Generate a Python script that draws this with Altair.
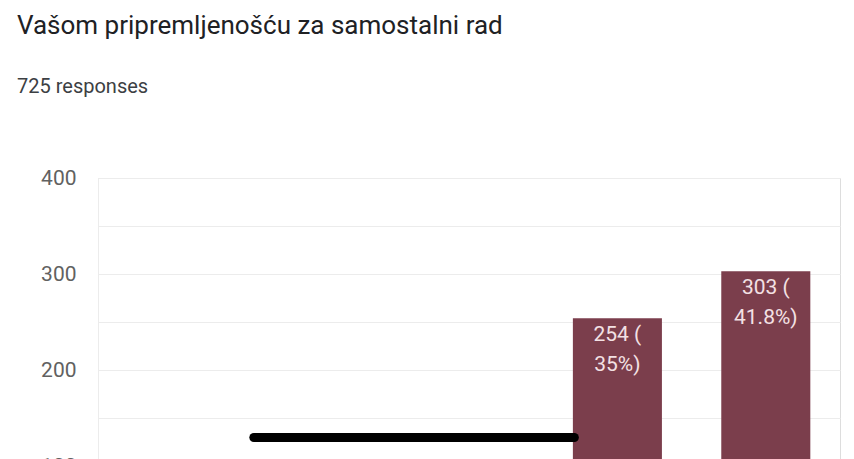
import altair as alt
import pandas as pd

# Data (categories 1-3 lie below the visible area)
categories = ["1", "2", "3", "4", "5"]
counts = [17, 51, 100, 254, 303]
total_responses = 725
title_text = "Vašom pripremljenošću za samostalni rad"
subtitle_text = f"{total_responses} responses"
y_grid_values = [100, 150, 200, 250, 300, 350, 400]

# Annotation stroke (black line drawn over the chart), in category units
mark_line_y = [130]
mark_line_x_start = [1.55]
mark_line_x_end = [3.71]


def pct(v):
    p = round(v / total_responses * 100, 1)
    s = f"{p:.1f}".rstrip("0").rstrip(".")
    return f"{v} (\n{s}%)"


df = pd.DataFrame({
    "cat": categories,
    "count": counts,
    "label": [pct(v) for v in counts],
})
df_line = pd.DataFrame({"y": mark_line_y, "x": mark_line_x_start, "x2": mark_line_x_end})

Y_DOMAIN = [90, 400]
BAR_COLOR = "#7b3e4c"

x_enc = alt.X("cat:N", sort=categories, axis=None,
              scale=alt.Scale(paddingInner=0.4, paddingOuter=0.2))
y_enc = alt.Y("count:Q",
              scale=alt.Scale(domain=Y_DOMAIN, nice=False, zero=False),
              axis=alt.Axis(values=y_grid_values, title=None, ticks=False,
                            labelExpr="datum.value % 100 == 0 ? datum.label : ''",
                            labelFont="Roboto", labelFontSize=21, labelColor="#616161",
                            labelPadding=22, gridColor="#ececec", gridWidth=1,
                            domainColor="#ececec", labelBound=False, labelFlush=False))

bars = alt.Chart(df).mark_bar(color=BAR_COLOR, clip=True).encode(x=x_enc, y=y_enc)

texts = alt.Chart(df).transform_filter(
    alt.datum.count > Y_DOMAIN[0] + 60
).mark_text(
    baseline="top", align="center", dy=6, font="Roboto", fontSize=21,
    lineBreak="\n", lineHeight=30, color="#f3e1e4"
).encode(x=alt.X("cat:N", sort=categories, axis=None,
                 scale=alt.Scale(domain=categories, paddingInner=0.4, paddingOuter=0.2)),
         y=alt.Y("count:Q", scale=alt.Scale(domain=Y_DOMAIN, nice=False, zero=False)),
         text="label:N")

rule = alt.Chart(df_line).mark_rule(
    color="black", strokeWidth=9, strokeCap="round"
).encode(
    x=alt.X("x:Q", scale=alt.Scale(domain=[0.5, 5.5], nice=False, zero=False), axis=None),
    x2="x2:Q",
    y=alt.Y("y:Q", scale=alt.Scale(domain=Y_DOMAIN, nice=False, zero=False)),
)

chart = alt.layer(bars, texts, rule).resolve_scale(x="independent").properties(
    width=742,
    height=298,
    autosize=alt.AutoSizeParams(type="none"),
    padding={"left": 90, "top": 170, "right": 6, "bottom": 0},
    title=alt.TitleParams(
        text=title_text, subtitle=subtitle_text, anchor="start", frame="group",
        dx=-81, offset=70, font="Roboto", fontSize=26, fontWeight="normal",
        color="#202124", subtitleFont="Roboto", subtitleFontSize=20,
        subtitleColor="#3c4043", subtitlePadding=38,
    ),
).configure_view(stroke=None).configure(background="white")

chart.save("out.html", embed_options={"renderer": "svg", "actions": False})
